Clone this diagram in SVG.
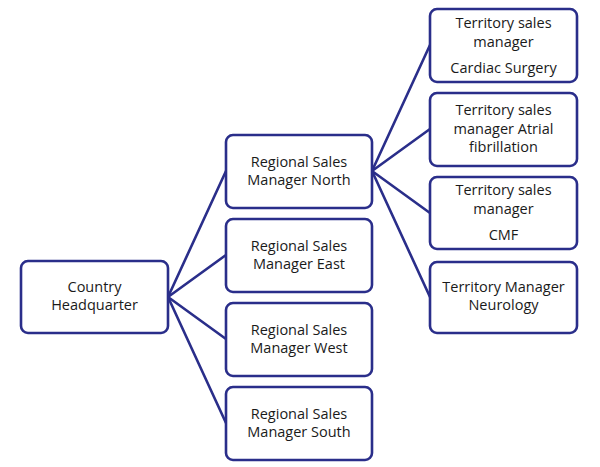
<svg xmlns="http://www.w3.org/2000/svg" width="600" height="467" viewBox="0 0 600 467">
<style>
.box{fill:#fff;stroke:#2A2E8A;stroke-width:2.6}
.ln{stroke:#2A2E8A;stroke-width:2.6;fill:none;stroke-linecap:round}
text{font-family:"Open Sans","Liberation Sans",Arial,sans-serif;font-size:14.5px;fill:#1a1a1a;text-anchor:middle}
</style>
<rect width="600" height="467" fill="#fff"/>
<g id="connectors">
<line class="ln" x1="168" y1="297" x2="226" y2="171"/>
<line class="ln" x1="168" y1="297" x2="226" y2="255"/>
<line class="ln" x1="168" y1="297" x2="226" y2="339"/>
<line class="ln" x1="168" y1="297" x2="226" y2="423"/>
<line class="ln" x1="372" y1="171" x2="430" y2="45"/>
<line class="ln" x1="372" y1="171" x2="430" y2="129"/>
<line class="ln" x1="372" y1="171" x2="430" y2="213"/>
<line class="ln" x1="372" y1="171" x2="430" y2="297"/>
</g>
<g id="hq"><rect class="box" x="21" y="261" width="147" height="72" rx="7"/><text x="94.5" y="292">Country</text><text x="94.5" y="310">Headquarter</text></g>
<g id="north"><rect class="box" x="226" y="135" width="146" height="73" rx="7"/><text x="299" y="167">Regional Sales</text><text x="299" y="185">Manager North</text></g>
<g id="east"><rect class="box" x="226" y="219" width="146" height="73" rx="7"/><text x="299" y="251">Regional Sales</text><text x="299" y="269">Manager East</text></g>
<g id="west"><rect class="box" x="226" y="303" width="146" height="73" rx="7"/><text x="299" y="335">Regional Sales</text><text x="299" y="353">Manager West</text></g>
<g id="south"><rect class="box" x="226" y="387" width="146" height="73" rx="7"/><text x="299" y="419">Regional Sales</text><text x="299" y="437">Manager South</text></g>
<g id="t1"><rect class="box" x="430" y="9" width="147" height="73" rx="7"/><text x="503.5" y="28">Territory sales</text><text x="503.5" y="47">manager</text><text x="503.5" y="73">Cardiac Surgery</text></g>
<g id="t2"><rect class="box" x="430" y="93" width="147" height="73" rx="7"/><text x="503.5" y="115">Territory sales</text><text x="503.5" y="134">manager Atrial</text><text x="503.5" y="152">fibrillation</text></g>
<g id="t3"><rect class="box" x="430" y="177" width="147" height="72" rx="7"/><text x="503.5" y="195">Territory sales</text><text x="503.5" y="214">manager</text><text x="503.5" y="240">CMF</text></g>
<g id="t4"><rect class="box" x="430" y="262" width="147" height="71" rx="7"/><text x="503.5" y="292">Territory Manager</text><text x="503.5" y="310">Neurology</text></g>
</svg>
